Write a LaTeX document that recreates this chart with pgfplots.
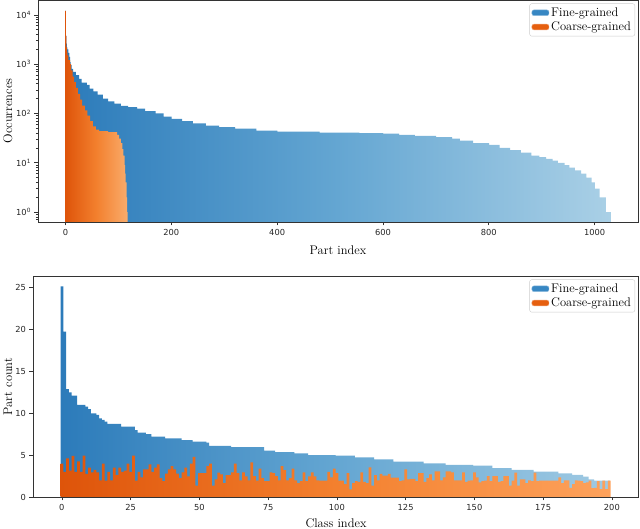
\documentclass[border=0pt]{standalone}
\usepackage{fontspec}
\newfontfamily\dejavu{DejaVu Sans}
\usepackage{pgfplots}
\pgfplotsset{compat=1.18}
\definecolor{bdark}{RGB}{44,123,186}
\definecolor{bmid}{RGB}{100,166,210}
\definecolor{blight}{RGB}{170,208,230}
\definecolor{blight2}{RGB}{160,202,227}
\definecolor{odark}{RGB}{222,84,10}
\definecolor{omid}{RGB}{243,128,46}
\definecolor{olight}{RGB}{249,172,108}
\definecolor{olight2}{RGB}{253,162,92}
\definecolor{legblue}{RGB}{55,135,195}
\definecolor{legorange}{RGB}{230,95,15}
\newcommand{\lf}{\fontsize{12.5}{14}\selectfont}
\pgfplotsset{
  common/.style={
    scale only axis, anchor=south west,
    axis line style={draw=black!80, line width=0.7pt},
    tick align=outside, tick pos=left,
    major tick length=3.5pt, minor tick length=2pt,
    every tick/.style={black!80, line width=0.6pt},
    tick label style={font=\dejavu\fontsize{8.3}{10}\selectfont, color=black!85},
    /pgf/number format/assume math mode=true,
    /pgf/number format/1000 sep={},
    legend style={at={(1,1)}, anchor=north east, xshift=-3pt, yshift=-3.5pt,
      draw=black!20, rounded corners=2pt, fill=white, inner sep=2pt,
      row sep=0pt},
    legend cell align=left,
  }
}
\begin{document}
\begin{tikzpicture}[x=1pt,y=1pt]
\useasboundingbox (0,0) rectangle (640,529);
% ---------------- top ----------------
\begin{axis}[common, at={(38pt,307pt)}, width=600pt, height=222pt,
  ymode=log, xmin=-52, xmax=1082, ymin=0.63, ymax=20000,
  xtick={0,200,400,600,800,1000},
  ytick={1,10,100,1000,10000},
  yticklabels={10\textsuperscript{0},10\textsuperscript{1},10\textsuperscript{2},10\textsuperscript{3},10\textsuperscript{4}},
  minor ytick={0.7,0.8,0.9,2,3,4,5,6,7,8,9,20,30,40,50,60,70,80,90,200,300,400,500,600,700,800,900,2000,3000,4000,5000,6000,7000,8000,9000},
]
\addplot[forget plot, const plot mark left, draw=none, left color=bdark, right color=blight, middle color=bmid] coordinates {
(-0.5,0.1) (-0.5,12000) (0.5,3800) (1.5,2600) (2.5,2200) (3.5,2000) (5.5,1700) (7.5,1400) (8.5,1100) (9.5,950) (11.5,800) (14.5,700) (19.5,600) (25.5,500) (30.5,420) (40.5,380) (45.5,320) (52.5,280) (60.5,240) (70.5,200) (80.5,175) (92.5,158) (104.5,143) (118.5,135) (135.5,125) (150.5,112) (170.5,100) (185.5,86) (200.5,78) (220.5,70) (240.5,63) (265.5,57) (290.5,53) (320.5,49) (360.5,45) (400.5,43) (480.5,41) (555.5,40) (600.5,39) (630.5,37) (660.5,35) (700.5,33) (730.5,31) (745.5,28) (770.5,25) (800.5,23) (820.5,20) (840.5,18) (860.5,16) (880.5,14) (895.5,13) (908.5,12) (920.5,11) (930.5,10) (943.5,9) (952.5,8) (962.5,7) (974.5,6) (984.5,5) (994.5,4) (1000.5,3) (1009.5,2) (1021.5,1) (1030.5,1) (1030.5,0.1)
} -- cycle;
\addplot[forget plot, const plot mark left, draw=none, left color=odark, right color=olight, middle color=omid] coordinates {
(-0.5,0.1) (-0.5,12000) (0.5,3700) (1.5,2200) (2.5,1800) (3.5,1500) (5.5,1200) (8.5,1000) (10.5,750) (13.5,560) (16.5,430) (19.5,330) (23.5,250) (27.5,190) (31.5,145) (36.5,115) (41.5,90) (46.5,70) (51.5,55) (57.5,47) (63.5,44) (80.5,42) (97.5,37) (101.5,31) (104.5,25) (107.5,19) (109.5,14) (111.5,9) (112.5,6) (113.5,4) (115.5,2) (116.5,1) (117.5,1) (117.5,0.1)
} -- cycle;
\addlegendimage{area legend, fill=legblue, draw=legblue!55!white}
\addlegendentry{\lf Fine-grained}
\addlegendimage{area legend, fill=legorange, draw=legorange!55!white}
\addlegendentry{\lf Coarse-grained}
\end{axis}
% ---------------- bottom ----------------
\begin{axis}[common, at={(33pt,32pt)}, width=605pt, height=221pt,
  xmin=-10.5, xmax=209.5, ymin=0, ymax=26.4,
  xtick={0,25,50,75,100,125,150,175,200},
  ytick={0,5,10,15,20,25},
]
\addplot[forget plot, const plot mark left, draw=none, left color=bdark, right color=blight2, middle color=bmid] coordinates {
(-0.5,0) (-0.5,25.15) (0.5,19.75) (1.5,12.9) (2.5,12.5) (3.5,12.1) (5.5,11.0) (8.5,10.8) (9.5,10.5) (10.5,10.0) (12.5,9.8) (13.5,9.4) (14.5,9.2) (15.5,9.0) (16.5,8.72) (21.5,8.4) (26.5,8.0) (27.5,7.7) (30.5,7.5) (32.5,7.2) (37.5,7.0) (43.5,6.8) (47.5,6.6) (52.5,6.5) (53.5,6.1) (61.5,5.95) (73.5,5.55) (77.5,5.35) (84.5,5.2) (89.5,5.0) (99.5,4.94) (106.5,4.74) (113.5,4.5) (120.5,4.23) (131.5,4.03) (139.5,3.83) (149.5,3.75) (156.5,3.44) (163.5,3.23) (171.5,3.03) (180.5,2.83) (185.5,2.63) (189.5,2.43) (191.5,2.1) (193.5,1.95) (199.5,1.95) (199.5,0)
} -- cycle;
\addplot[forget plot, const plot mark left, draw=none, left color=odark, right color=olight2, middle color=omid] coordinates {
(-0.5,0)
(-0.5,4.0) (0.5,3.0) (1.5,4.6) (2.5,3.15) (3.5,4.9) (4.5,3.0) (5.5,4.25) (6.5,3.0) (7.5,4.95) (8.5,2.75)
(9.5,3.5) (10.5,2.95) (11.5,3.25) (12.5,2.95) (13.5,2.0) (14.5,4.0) (15.5,1.95) (16.5,3.0) (17.5,2.0) (18.5,3.5)
(19.5,2.6) (20.5,3.5) (21.5,3.0) (22.5,3.15) (23.5,4.0) (24.5,3.0) (25.5,4.95) (26.5,1.95) (27.5,3.0) (28.5,2.35)
(29.5,3.3) (30.5,3.3) (31.5,3.9) (32.5,3.0) (33.5,3.5) (34.5,3.9) (35.5,2.25) (36.5,1.9) (37.5,2.8) (38.5,3.3)
(39.5,3.7) (40.5,3.3) (41.5,2.8) (42.5,2.25) (43.5,2.95) (44.5,3.5) (45.5,2.45) (46.5,4.0) (47.5,4.8) (48.5,1.35)
(49.5,2.85) (50.5,2.85) (51.5,2.85) (52.5,3.7) (53.5,4.0) (54.5,1.35) (55.5,2.1) (56.5,2.9) (57.5,2.7) (58.5,1.65)
(59.5,2.6) (60.5,2.6) (61.5,2.95) (62.5,4.0) (63.5,2.85) (64.5,2.0) (65.5,2.95) (66.5,2.45) (67.5,2.0) (68.5,4.15)
(69.5,2.5) (70.5,1.95) (71.5,3.4) (72.5,2.25) (73.5,1.9) (74.5,1.9) (75.5,2.95) (76.5,2.85) (77.5,2.5) (78.5,2.0)
(79.5,3.7) (80.5,3.2) (81.5,2.0) (82.5,2.25) (83.5,3.4) (84.5,2.0) (85.5,1.65) (86.5,1.9) (87.5,2.95) (88.5,1.9)
(89.5,2.45) (90.5,2.95) (91.5,2.45) (92.5,2.0) (93.5,1.95) (94.5,1.95) (95.5,1.95) (96.5,3.0) (97.5,2.35) (98.5,3.4)
(99.5,2.85) (100.5,1.95) (101.5,1.95) (102.5,1.55) (103.5,2.85) (104.5,0.9) (105.5,1.65) (106.5,1.9) (107.5,1.8) (108.5,2.95)
(109.5,1.8) (110.5,1.65) (111.5,3.55) (112.5,1.35) (113.5,2.6) (114.5,2.0) (115.5,2.75) (116.5,2.55) (117.5,2.55) (118.5,2.75)
(119.5,2.3) (120.5,2.3) (121.5,2.3) (122.5,1.9) (123.5,2.0) (124.5,3.3) (125.5,2.1) (126.5,2.15) (127.5,2.15) (128.5,1.9)
(129.5,2.85) (130.5,2.85) (131.5,1.8) (132.5,2.25) (133.5,2.7) (134.5,2.0) (135.5,3.05) (136.5,3.05) (137.5,2.0) (138.5,2.35)
(139.5,3.05) (140.5,3.05) (141.5,2.95) (142.5,2.0) (143.5,2.0) (144.5,2.0) (145.5,2.95) (146.5,1.8) (147.5,1.95) (148.5,2.0)
(149.5,2.95) (150.5,2.35) (151.5,1.75) (152.5,1.9) (153.5,1.95) (154.5,2.5) (155.5,1.9) (156.5,2.5) (157.5,2.5) (158.5,1.8)
(159.5,1.9) (160.5,2.5) (161.5,2.5) (162.5,1.35) (163.5,1.95) (164.5,2.9) (165.5,1.35) (166.5,2.1) (167.5,2.1) (168.5,1.65)
(169.5,2.0) (170.5,1.9) (171.5,2.9) (172.5,1.9) (173.5,1.95) (174.5,1.95) (175.5,1.95) (176.5,1.95) (177.5,1.95) (178.5,1.95)
(179.5,1.95) (180.5,2.35) (181.5,1.65) (182.5,2.0) (183.5,2.0) (184.5,1.1) (185.5,1.55) (186.5,2.0) (187.5,1.95) (188.5,1.9)
(189.5,1.65) (190.5,1.75) (191.5,1.95) (192.5,1.05) (193.5,1.1) (194.5,1.9) (195.5,0.95) (196.5,1.95) (197.5,0.95) (198.5,1.95)
(199.5,1.95) (199.5,0)
} -- cycle;
\addlegendimage{area legend, fill=legblue, draw=legblue!55!white}
\addlegendentry{\lf Fine-grained}
\addlegendimage{area legend, fill=legorange, draw=legorange!55!white}
\addlegendentry{\lf Coarse-grained}
\end{axis}
% ---------------- labels ----------------
\node[rotate=90, anchor=base, font=\lf] at (12,418) {Occurrences};
\node[anchor=base, font=\lf] at (338,274) {Part index};
\node[rotate=90, anchor=base, font=\lf] at (12,142.5) {Part count};
\node[anchor=base, font=\lf] at (336,1.5) {Class index};
\end{tikzpicture}
\end{document}
